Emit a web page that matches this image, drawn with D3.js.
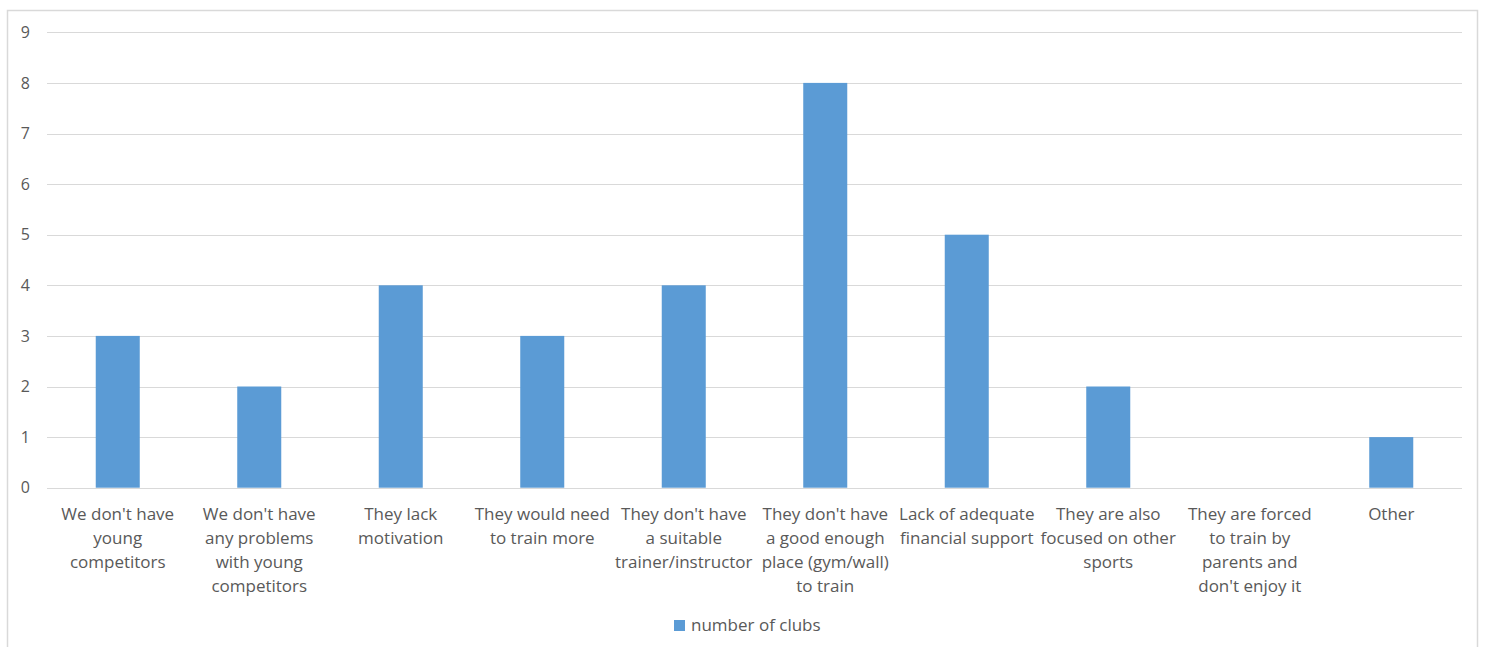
<!DOCTYPE html>
<html>
<head>
<meta charset="utf-8">
<script src="https://cdn.jsdelivr.net/npm/d3@7"></script>
<style>
  html, body { margin: 0; padding: 0; background: #fff; }
  svg { display: block; font-family: "Open Sans", "Noto Sans", sans-serif; }
</style>
</head>
<body>
<svg id="chart" width="1486" height="647"></svg>
<script>
// Reasons given by clubs, with explicit line breaks for the axis labels
const categories = [
  "We don't have\nyoung\ncompetitors",
  "We don't have\nany problems\nwith young\ncompetitors",
  "They lack\nmotivation",
  "They would need\nto train more",
  "They don't have\na suitable\ntrainer/instructor",
  "They don't have\na good enough\nplace (gym/wall)\nto train",
  "Lack of adequate\nfinancial support",
  "They are also\nfocused on other\nsports",
  "They are forced\nto train by\nparents and\ndon't enjoy it",
  "Other"
];
const clubCounts = [3, 2, 4, 3, 4, 8, 5, 2, 0, 1];
const yTicks = [0, 1, 2, 3, 4, 5, 6, 7, 8, 9];
const seriesName = "number of clubs";

const svg = d3.select("#chart");
const barColor = "#5B9BD5";
const textColor = "#595959";
const gridColor = "#D9D9D9";

// Outer chart frame
svg.append("rect")
  .attr("x", 7.5).attr("y", 10.5)
  .attr("width", 1470).attr("height", 640)
  .attr("fill", "#fff").attr("stroke", gridColor).attr("stroke-width", 1.5);

const plot = { left: 47, right: 1462, top: 32.3, bottom: 487.7 };

const x = d3.scaleBand()
  .domain(d3.range(categories.length))
  .range([plot.left, plot.right])
  .paddingInner(0.689)
  .paddingOuter(0.3445);

const y = d3.scaleLinear()
  .domain([0, 9])
  .range([plot.bottom, plot.top]);

// Horizontal gridlines
svg.append("g")
  .selectAll("line")
  .data(yTicks)
  .join("line")
  .attr("x1", plot.left).attr("x2", plot.right)
  .attr("y1", d => Math.round(y(d)) + 0.5).attr("y2", d => Math.round(y(d)) + 0.5)
  .attr("stroke", gridColor).attr("stroke-width", 1);

// Y axis labels
const yAxis = d3.axisLeft(y).tickValues(yTicks).tickSize(0).tickPadding(0);
svg.append("g")
  .attr("transform", `translate(${plot.left - 17},0)`)
  .call(yAxis)
  .attr("font-size", null)
  .attr("font-family", null)
  .call(g => g.select(".domain").remove())
  .call(g => g.selectAll("text")
    .attr("fill", textColor)
    .style("font-size", "16px"));

// Bars
svg.append("g")
  .selectAll("rect")
  .data(clubCounts)
  .join("rect")
  .attr("x", (d, i) => x(i))
  .attr("width", x.bandwidth())
  .attr("y", d => y(d))
  .attr("height", d => y(0) - y(d))
  .attr("fill", barColor);

// Category labels, one tspan per line
const labelG = svg.append("g");
categories.forEach((c, i) => {
  const cx = x(i) + x.bandwidth() / 2;
  const t = labelG.append("text")
    .attr("text-anchor", "middle")
    .attr("fill", textColor)
    .style("font-size", "17px");
  c.split("\n").forEach((line, k) => {
    t.append("tspan")
      .attr("x", cx)
      .attr("y", 520 + k * 24)
      .text(line);
  });
});

// Legend
const legend = svg.append("g");
legend.append("rect")
  .attr("x", 674).attr("y", 620)
  .attr("width", 11).attr("height", 11)
  .attr("fill", barColor);
legend.append("text")
  .attr("x", 691).attr("y", 631)
  .attr("fill", textColor)
  .style("font-size", "17px")
  .text(seriesName);
</script>
</body>
</html>
